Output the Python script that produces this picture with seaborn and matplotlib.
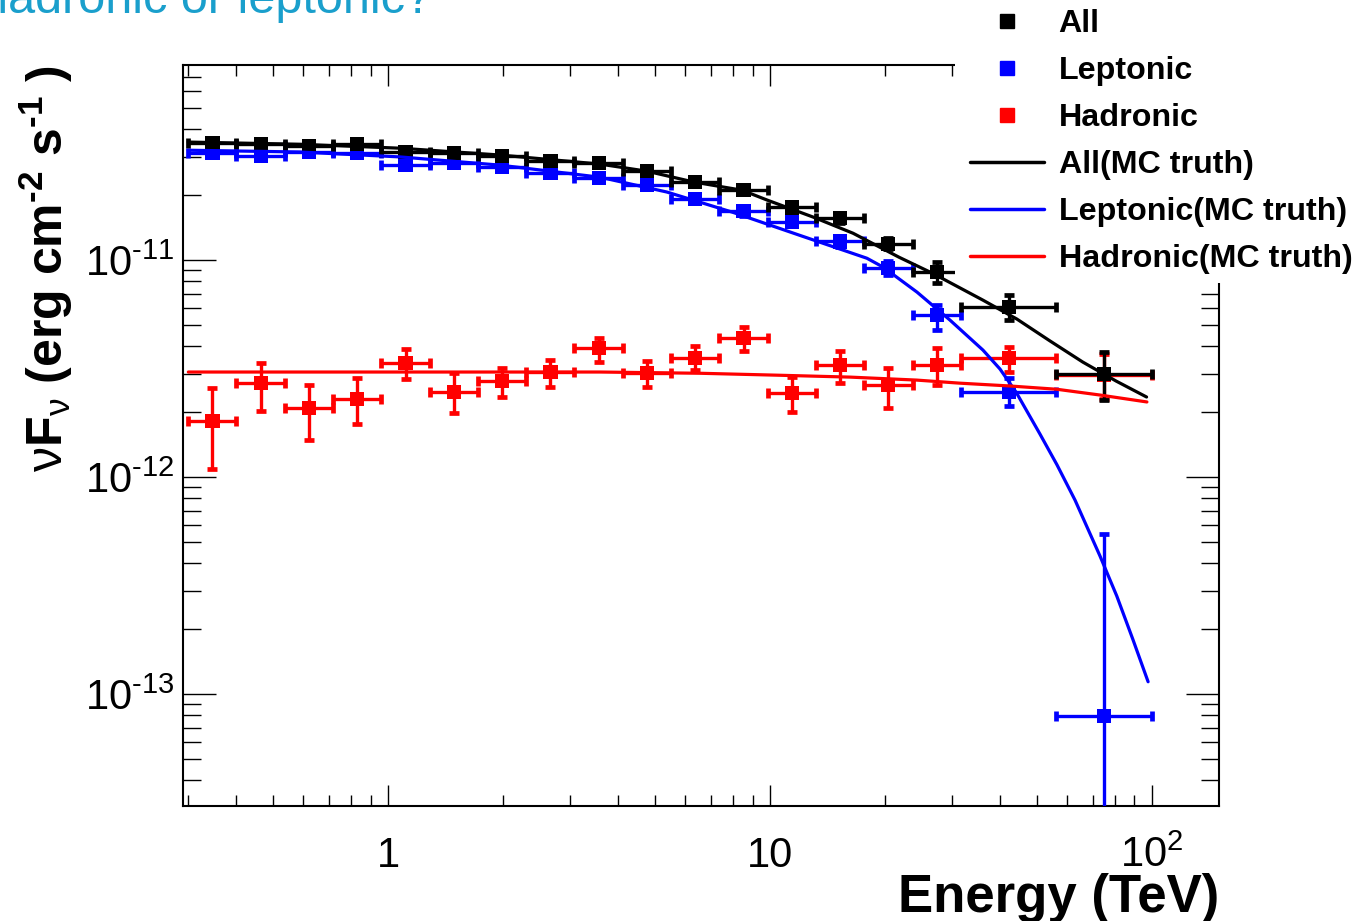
import numpy as np
import pandas as pd
import matplotlib
matplotlib.use("Agg")
import matplotlib.pyplot as plt
import seaborn as sns
from matplotlib.ticker import FixedLocator, FuncFormatter, LogLocator, NullFormatter
from matplotlib.lines import Line2D
from matplotlib.patches import Rectangle

# ---------------- data ----------------
energy = [0.347, 0.464, 0.621, 0.831, 1.111, 1.487, 1.989, 2.661, 3.560, 4.763,
          6.372, 8.524, 11.40, 15.26, 20.41, 27.31, 42.17, 74.99]
energy_lo = [0.300, 0.401, 0.537, 0.718, 0.961, 1.285, 1.719, 2.301, 3.077, 4.118,
             5.508, 7.369, 9.858, 13.19, 17.65, 23.61, 31.58, 56.23]
energy_hi = [0.401, 0.537, 0.718, 0.961, 1.285, 1.719, 2.301, 3.077, 4.118, 5.508,
             7.369, 9.858, 13.19, 17.65, 23.61, 31.58, 56.23, 100.0]

all_flux = [3.46e-11, 3.42e-11, 3.35e-11, 3.42e-11, 3.15e-11, 3.11e-11, 3.02e-11, 2.86e-11,
            2.80e-11, 2.57e-11, 2.29e-11, 2.10e-11, 1.75e-11, 1.56e-11, 1.19e-11, 8.80e-12,
            6.07e-12, 2.98e-12]
all_lo = [3.34e-11, 3.30e-11, 3.23e-11, 3.30e-11, 3.04e-11, 3.00e-11, 2.91e-11, 2.76e-11,
          2.70e-11, 2.47e-11, 2.20e-11, 2.01e-11, 1.67e-11, 1.49e-11, 1.12e-11, 7.84e-12,
          5.30e-12, 2.26e-12]
all_hi = [3.58e-11, 3.54e-11, 3.47e-11, 3.54e-11, 3.26e-11, 3.22e-11, 3.13e-11, 2.96e-11,
          2.90e-11, 2.67e-11, 2.38e-11, 2.19e-11, 1.83e-11, 1.64e-11, 1.26e-11, 9.79e-12,
          6.90e-12, 3.77e-12]

lep_flux = [3.11e-11, 3.02e-11, 3.15e-11, 3.11e-11, 2.74e-11, 2.80e-11, 2.68e-11, 2.52e-11,
            2.39e-11, 2.22e-11, 1.91e-11, 1.68e-11, 1.50e-11, 1.22e-11, 9.19e-12, 5.58e-12,
            2.46e-12, 7.92e-14]
lep_lo = [3.00e-11, 2.91e-11, 3.04e-11, 3.00e-11, 2.64e-11, 2.70e-11, 2.58e-11, 2.43e-11,
          2.30e-11, 2.13e-11, 1.83e-11, 1.60e-11, 1.43e-11, 1.15e-11, 8.50e-12, 4.76e-12,
          2.12e-12, 1.0e-16]
lep_hi = [3.22e-11, 3.13e-11, 3.26e-11, 3.22e-11, 2.84e-11, 2.90e-11, 2.78e-11, 2.61e-11,
          2.48e-11, 2.31e-11, 1.99e-11, 1.76e-11, 1.57e-11, 1.29e-11, 9.90e-12, 6.20e-12,
          2.86e-12, 5.46e-13]

had_flux = [1.82e-12, 2.71e-12, 2.08e-12, 2.29e-12, 3.35e-12, 2.46e-12, 2.77e-12, 3.05e-12,
            3.93e-12, 3.01e-12, 3.53e-12, 4.37e-12, 2.44e-12, 3.28e-12, 2.65e-12, 3.28e-12,
            3.53e-12, 2.95e-12]
had_lo = [1.09e-12, 2.01e-12, 1.48e-12, 1.75e-12, 2.83e-12, 1.97e-12, 2.34e-12, 2.60e-12,
          3.39e-12, 2.60e-12, 3.11e-12, 3.81e-12, 1.99e-12, 2.71e-12, 2.08e-12, 2.65e-12,
          3.05e-12, 2.30e-12]
had_hi = [2.57e-12, 3.35e-12, 2.65e-12, 2.86e-12, 3.89e-12, 3.01e-12, 3.18e-12, 3.46e-12,
          4.37e-12, 3.42e-12, 4.02e-12, 4.91e-12, 2.89e-12, 3.81e-12, 3.18e-12, 3.93e-12,
          3.97e-12, 3.70e-12]

# MC truth curves
all_mc_e = [0.30, 0.588, 1.075, 1.965, 3.59, 4.76, 6.32, 8.45, 9.84, 12.96, 16.5, 21.8,
            26.6, 36.1, 44.3, 54.1, 65.9, 80.6, 96.8]
all_mc_f = [3.50e-11, 3.42e-11, 3.28e-11, 3.05e-11, 2.77e-11, 2.57e-11, 2.29e-11, 2.10e-11,
            1.89e-11, 1.58e-11, 1.33e-11, 1.03e-11, 8.71e-12, 6.54e-12, 5.35e-12, 4.24e-12,
            3.39e-12, 2.77e-12, 2.34e-12]
lep_mc_e = [0.30, 0.588, 1.075, 1.965, 3.59, 5.37, 8.00, 11.98, 17.94, 19.77, 24.26, 29.6,
            36.1, 40.0, 44.1, 50.9, 56.4, 62.9, 73.1, 80.9, 89.1, 97.7]
lep_mc_f = [3.21e-11, 3.15e-11, 2.99e-11, 2.74e-11, 2.41e-11, 2.06e-11, 1.66e-11, 1.30e-11,
            1.02e-11, 9.29e-12, 7.12e-12, 5.29e-12, 3.85e-12, 3.15e-12, 2.46e-12, 1.58e-12,
            1.14e-12, 7.83e-13, 4.33e-13, 2.83e-13, 1.79e-13, 1.14e-13]
had_mc_e = [0.30, 1.075, 3.59, 6.57, 10.4, 16.2, 24.2, 31.4, 42.5, 56.4, 73.0, 97.0]
had_mc_f = [3.05e-12, 3.05e-12, 3.05e-12, 3.01e-12, 2.95e-12, 2.89e-12, 2.80e-12, 2.71e-12,
            2.63e-12, 2.54e-12, 2.39e-12, 2.22e-12]

series_names = ["All", "Leptonic", "Hadronic"]
curve_names = ["All(MC truth)", "Leptonic(MC truth)", "Hadronic(MC truth)"]
x_ticks = [1, 10, 100]
x_tick_labels = ["1", "10", r"$\mathregular{10^{2}}$"]
y_ticks = [1e-13, 1e-12, 1e-11]
y_tick_labels = [r"$\mathregular{10^{‐13}}$", r"$\mathregular{10^{‐12}}$", r"$\mathregular{10^{‐11}}$"]
x_title = "Energy (TeV)"
y_title = r"$\mathrm{\nu}\mathbf{F}_{\mathrm{\nu}}$ (erg cm$^{\mathbf{‐2}}$ s$^{\mathbf{‐1}}$ )"
slide_title = "hadronic or leptonic?"

# ---------------- style ----------------
sns.set_theme(style="white")
plt.rcParams["font.family"] = ["Liberation Sans", "DejaVu Sans"]
plt.rcParams["mathtext.fontset"] = "custom"
plt.rcParams["mathtext.rm"] = "Liberation Sans"
plt.rcParams["mathtext.it"] = "Liberation Sans:italic"
plt.rcParams["mathtext.bf"] = "Liberation Sans:bold"
for k in ["text.color", "axes.labelcolor", "xtick.color", "ytick.color", "axes.edgecolor"]:
    plt.rcParams[k] = "black"

W, H = 1360, 921
fig = plt.figure(figsize=(W / 100, H / 100), dpi=100)
fig.patch.set_facecolor("white")
L, R, T, B = 183, 1219, 65, 806
ax = fig.add_axes([L / W, 1 - B / H, (R - L) / W, (B - T) / H])
ax.set_xscale("log")
ax.set_yscale("log")

colors = {"All": "#000000", "Leptonic": "#0000ff", "Hadronic": "#ff0000"}

series = [
    ("Hadronic", had_flux, had_lo, had_hi, 2),
    ("Leptonic", lep_flux, lep_lo, lep_hi, 3),
    ("All", all_flux, all_lo, all_hi, 4),
]
e = np.array(energy)
xerr = [e - np.array(energy_lo), np.array(energy_hi) - e]
for name, f, lo, hi, z in series:
    f = np.array(f)
    yerr = [f - np.array(lo), np.array(hi) - f]
    ax.errorbar(e, f, xerr=xerr, yerr=yerr, fmt="none", ecolor=colors[name],
                elinewidth=2.4, capsize=3.8, capthick=3.4, zorder=z)
    sns.scatterplot(x=e, y=f, ax=ax, marker="s", s=105, color=colors[name],
                    edgecolor="none", linewidth=0, zorder=z + 0.1, legend=False)

curves = [
    ("All", all_mc_e, all_mc_f),
    ("Leptonic", lep_mc_e, lep_mc_f),
    ("Hadronic", had_mc_e, had_mc_f),
]
for name, ce, cf in curves:
    df = pd.DataFrame({"E": ce, "F": cf})
    sns.lineplot(data=df, x="E", y="F", ax=ax, color=colors[name], lw=2.3,
                 sort=False, estimator=None, zorder=5, legend=False)

ax.set_xlim(0.2905, 149.8)
ax.set_ylim(3.05e-14, 7.93e-11)

# ticks (ROOT style: inside, all four sides)
ax.xaxis.set_major_locator(FixedLocator(x_ticks))
ax.xaxis.set_minor_locator(LogLocator(base=10, subs=np.arange(2, 10), numticks=20))
ax.xaxis.set_major_formatter(FuncFormatter(lambda v, p: x_tick_labels[x_ticks.index(round(v))] if round(v) in x_ticks else ""))
ax.xaxis.set_minor_formatter(NullFormatter())
ax.yaxis.set_major_locator(FixedLocator(y_ticks))
ax.yaxis.set_minor_locator(LogLocator(base=10, subs=np.arange(2, 10), numticks=20))
ax.yaxis.set_major_formatter(FuncFormatter(lambda v, p: y_tick_labels[int(np.argmin([abs(np.log10(v) - np.log10(t)) for t in y_ticks]))]))
ax.yaxis.set_minor_formatter(NullFormatter())

ax.tick_params(which="both", direction="in", top=True, right=True, bottom=True, left=True,
               width=1.0, color="black", labelcolor="black")
ax.tick_params(axis="x", which="major", length=15, labelsize=30, pad=44)
ax.tick_params(axis="x", which="minor", length=8)
ax.tick_params(axis="y", which="major", length=24, labelsize=30, pad=6)
ax.tick_params(axis="y", which="minor", length=13)
for t in ax.xaxis.get_major_ticks():
    t.label1.set_verticalalignment("baseline")

for s in ax.spines.values():
    s.set_color("black")
    s.set_linewidth(1.5)
ax.grid(False)

ax.set_xlabel(x_title, fontsize=38, fontweight="bold", ha="right", va="top", color="black")
ax.xaxis.set_label_coords(1.0, -0.091)
ax.set_ylabel(y_title, fontsize=36, fontweight="bold", ha="right", color="black")
ax.yaxis.set_label_coords(-0.104, 1.0)

# slide title (cut at the top edge, as in the reference)
fig.text(-19 / W, 1 - 13 / H, slide_title, fontsize=35, color="#1a9fcc",
         ha="left", va="baseline")

# legend on a white box covering the frame corner
fig.add_artist(Rectangle((955 / W, 1 - 283 / H), (W - 955) / W, 283 / H,
                         transform=fig.transFigure, facecolor="white",
                         edgecolor="none", zorder=4))
handles = [Line2D([], [], ls="none", marker="s", markersize=10, color=colors[n]) for n in series_names]
handles += [Line2D([], [], color=colors[n], lw=2.5) for n in series_names]
labels = series_names + curve_names
leg = fig.legend(handles, labels, loc="upper left", bbox_to_anchor=(970 / W, 1 - 9 / H),
                 bbox_transform=fig.transFigure, frameon=False, borderpad=0,
                 borderaxespad=0, handlelength=2.3, handletextpad=0.45,
                 labelspacing=0.53, prop={"weight": "bold", "size": 23.2},
                 labelcolor="black")
leg.set_zorder(6)

fig.savefig("out.png", dpi=100, facecolor="white")
